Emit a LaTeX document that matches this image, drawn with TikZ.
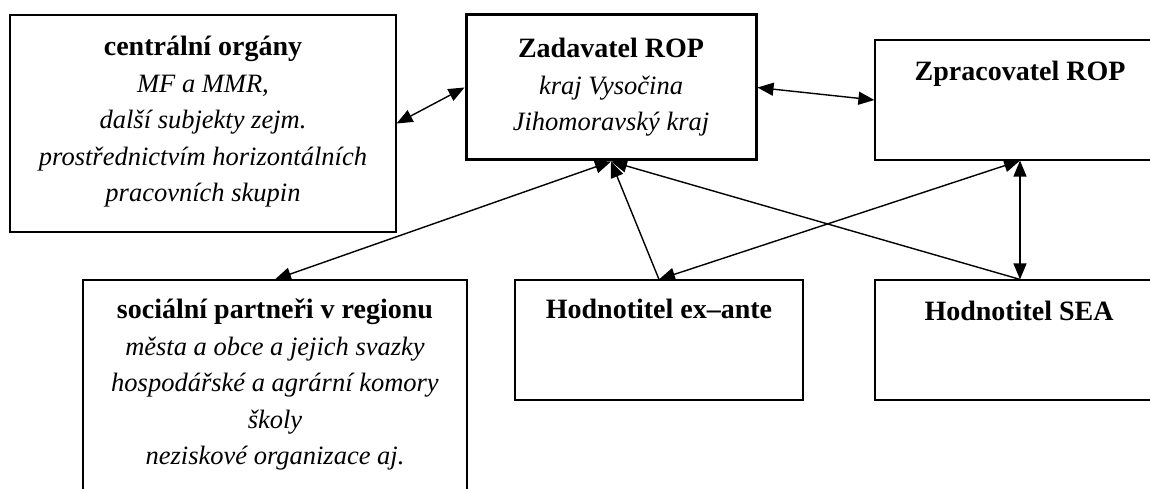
\documentclass[tikz,border=0pt]{standalone}
\usepackage{fontspec}
\setmainfont{Liberation Serif}
\usetikzlibrary{arrows.meta}
\begin{document}
\begin{tikzpicture}[x=1pt,y=-1pt,
  box/.style={draw, line width=1.2pt, inner sep=0pt},
  mainbox/.style={draw, line width=3pt, inner sep=0pt},
  txt/.style={inner sep=0pt, align=center, anchor=north, font=\fontsize{26.5}{36.5}\selectfont\itshape},
  conn/.style={line width=1.4pt},
  >={Triangle[length=16pt,width=13pt]}
]
\newcommand{\ttl}[1]{{\fontsize{28}{36.5}\selectfont\upshape\bfseries #1}}
\useasboundingbox (0,0) rectangle (1150,489);
\clip (0,0) rectangle (1150,489);

% boxes
\node[box, minimum width=386pt, minimum height=217pt] (co) at (203,123.5) {};
\node[mainbox, minimum width=290pt, minimum height=145pt] (zad) at (611,87.5) {};
\node[box, minimum width=290pt, minimum height=120pt] (zpr) at (1020,100) {};
\node[box, minimum width=290pt, minimum height=120pt] (sea) at (1020,340) {};
\node[box, minimum width=288pt, minimum height=120pt] (exa) at (659,340) {};
\node[box, minimum width=384pt, minimum height=260pt] (soc) at (275,410) {};

% texts
\node[txt] (cot) at (203,36) {\ttl{centrální orgány}\\ MF a MMR,\\ další subjekty zejm.\\ prostřednictvím horizontálních\\ pracovních skupin};
\node[txt] (zadt) at (611,38) {\ttl{Zadavatel ROP}\\ kraj Vysočina\\ Jihomoravský kraj};
\node[txt] (zprt) at (1020,61) {\ttl{Zpracovatel ROP}};
\node[txt] (exat) at (659,299) {\ttl{Hodnotitel ex–ante}};
\node[txt] (seat) at (1019,301) {\ttl{Hodnotitel SEA}};
\node[txt] (soct) at (275,299) {\ttl{sociální partneři v regionu}\\ města a obce a jejich svazky\\ hospodářské a agrární komory\\ školy\\ neziskové organizace aj.};

% connectors
\draw[conn,<->] (co.east) -- (zad.west);
\draw[conn,<->] (zad.east) -- (zpr.west);
\draw[conn,<->] (soc.north) -- (zad.south);
\draw[conn,->] (exa.north) -- (zad.south);
\draw[conn,<->] (zpr.south) -- (exa.north);
\draw[conn,->] (sea.north) -- (zad.south);
\draw[conn,<->] (zpr.south) -- (sea.north);
\end{tikzpicture}
\end{document}
